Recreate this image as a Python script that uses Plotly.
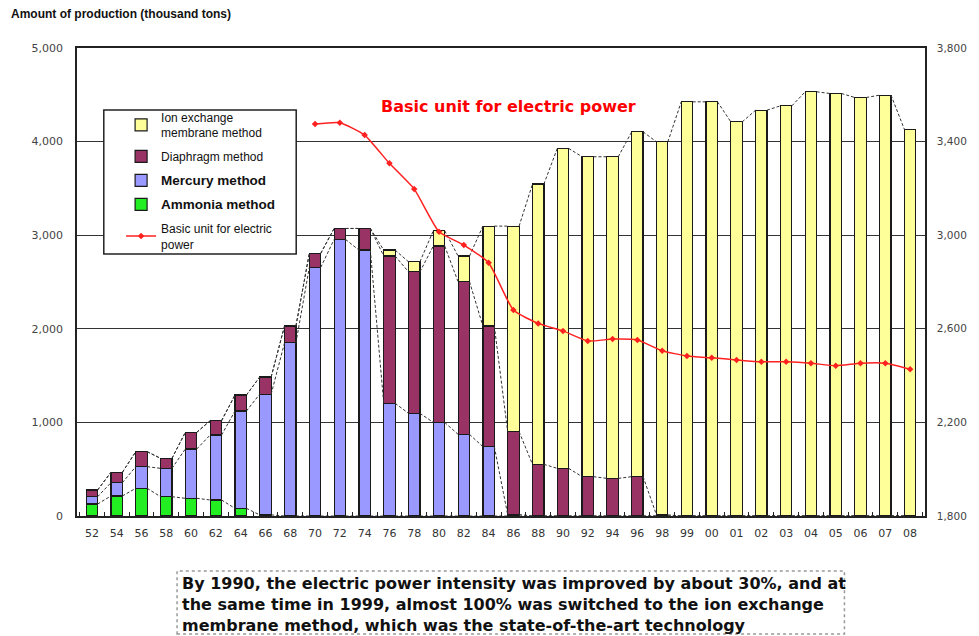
import plotly.graph_objects as go

years = ["52","54","56","58","60","62","64","66","68","70","72","74","76","78","80","82","84","86","88","90","92","94","96","98",
         "99","00","01","02","03","04","05","06","07","08"]

ammonia   = [128,214,296,206,189,171,82,12,0,0,0,0,0,0,0,0,0,0,0,0,0,0,0,0, 0,0,0,0,0,0,0,0,0,0]
mercury   = [78,142,231,303,527,694,1039,1290,1850,2656,2955,2841,1204,1097,1000,872,740,15,0,0,0,0,0,0, 0,0,0,0,0,0,0,0,0,0]
diaphragm = [72,111,160,107,178,153,171,183,180,150,117,231,1573,1512,1884,1631,1289,885,552,509,420,402,420,12, 0,0,0,0,0,0,0,0,0,0]
ion_exch  = [0,0,0,0,0,0,0,0,0,0,0,0,64,107,163,274,1068,2197,2994,3418,3418,3436,3684,3986,
             4425,4425,4211,4336,4382,4532,4514,4471,4496,4130]

power_years = ["70","72","74","76","78","80","82","84","86","88","90","92","94","96","98",
               "99","00","01","02","03","04","05","06","07","08"]
power_unit  = [3475,3481,3428,3307,3197,3015,2958,2882,2680,2623,2591,2548,2556,2552,2506,
               2484,2476,2467,2459,2459,2453,2442,2453,2453,2427]

n = len(years)
xi = list(range(n))
W = 0.46
FONT = "Liberation Sans, Arial, sans-serif"
WIDE = "DejaVu Sans, sans-serif"

fig = go.Figure()

BIG = "<span style='font-size:13.5px'><b>%s</b></span>"
bar_specs = [
    (BIG % "Ammonia method", ammonia, "#22EE22", 4),
    (BIG % "Mercury method", mercury, "#9999FF", 3),
    ("Diaphragm method", diaphragm, "#993366", 2),
    ("Ion exchange<br>membrane method", ion_exch, "#FFFF99", 1),
]
for name, vals, col, rank in bar_specs:
    fig.add_trace(go.Bar(x=xi, y=vals, name=name, width=W, legendrank=rank, legendgroup="g%d" % rank,
                         marker=dict(color=col, line=dict(color="#1a1a1a", width=1.2))))

# Excel-style series lines connecting the top of each stacked segment
cum = [0.0] * n
for _, vals, _, _ in bar_specs:
    cum = [c + v for c, v in zip(cum, vals)]
    sx, sy = [], []
    for i in range(n - 1):
        sx += [i + W / 2, i + 1 - W / 2, None]
        sy += [cum[i], cum[i + 1], None]
    fig.add_trace(go.Scatter(x=sx, y=sy, mode="lines", showlegend=False, hoverinfo="skip",
                             line=dict(color="#333333", width=1, dash="3px,2px")))

px = [years.index(y) for y in power_years]
fig.add_trace(go.Scatter(x=px, y=power_unit, yaxis="y2", mode="lines+markers",
                         name="Basic unit for electric<br>power", legendrank=5, legendgroup="g5",
                         line=dict(color="#FF2020", width=1.5, shape="spline", smoothing=0.5),
                         marker=dict(symbol="diamond", size=5, color="#FF2020")))

# invisible trace carrying the category label axis
fig.add_trace(go.Scatter(x=xi, y=[0] * n, xaxis="x2", mode="none", showlegend=False, hoverinfo="skip"))

fig.update_layout(
    width=971, height=628,
    margin=dict(l=69, r=47, t=40, b=120),
    paper_bgcolor="white", plot_bgcolor="white",
    barmode="stack",
    font=dict(family=FONT, color="#222222"),
    showlegend=True,
    legend=dict(x=0.052, y=0.883, xanchor="left", yanchor="top",
                bgcolor="rgba(0,0,0,0)", borderwidth=0,
                font=dict(size=12, family=FONT, color="#111111"),
                traceorder="grouped", itemwidth=30, tracegroupgap=5),
    xaxis=dict(range=[-0.6, n - 0.4], tickmode="array", tickvals=[i + 0.5 for i in range(-1, n)],
               ticktext=[""] * (n + 1), ticks="inside", ticklen=4, tickwidth=1.2, tickcolor="#222222",
               showgrid=False, zeroline=False,
               showline=True, linecolor="#222222", linewidth=1.5, mirror=True),
    xaxis2=dict(range=[-0.6, n - 0.4], overlaying="x", side="bottom", anchor="y",
                tickmode="array", tickvals=xi, ticktext=years, ticks="", showgrid=False,
                zeroline=False, showline=False,
                tickfont=dict(size=11, family=WIDE, color="#333333"), ticklabelstandoff=9),
    yaxis=dict(range=[0, 5000], dtick=1000, tickformat=",", showgrid=True, gridcolor="#333333",
               gridwidth=1.3, zeroline=False, showline=True, linecolor="#222222", linewidth=1.5,
               tickfont=dict(size=11, family=WIDE, color="#444444"), ticklabelstandoff=10),
    yaxis2=dict(range=[1800, 3800], tick0=1800, dtick=400, tickformat=",", overlaying="y", side="right",
                showgrid=False, zeroline=False, showline=True, linecolor="#222222", linewidth=1.5,
                tickfont=dict(size=10.5, family=WIDE, color="#444444"), ticklabelstandoff=8),
    shapes=[
        dict(type="rect", xref="paper", yref="paper", x0=0.0316, x1=0.2585, y0=0.5598, y1=0.8675,
             fillcolor="white", line=dict(color="#222222", width=1.5), layer="above"),
        dict(type="rect", xref="paper", yref="paper", x0=0.118, x1=0.905, y0=-0.252, y1=-0.1175,
             fillcolor="white", line=dict(color="#999999", width=1.5, dash="dot"), layer="above"),
    ],
    annotations=[
        dict(text="<b>Amount of production (thousand tons)</b>", xref="paper", yref="paper",
             x=-0.0807, y=1.0726, xanchor="left", yanchor="middle", showarrow=False,
             font=dict(size=12, color="#111111")),
        dict(text="<b>Basic unit for electric power</b>", xref="paper", yref="paper",
             x=0.5088, y=0.876, xanchor="center", yanchor="middle", showarrow=False,
             font=dict(size=16, family=WIDE, color="#FF0000")),
        dict(text="<b>By 1990, the electric power intensity was improved by about 30%, and at<br>"
                  "the same time in 1999, almost 100% was switched to the ion exchange<br>"
                  "membrane method, which was the state-of-the-art technology</b>",
             xref="paper", yref="paper", x=0.1216, y=-0.1195, xanchor="left", yanchor="top",
             align="left", showarrow=False, font=dict(size=16, family=WIDE, color="#111111")),
    ],
)

fig.write_html("out.html")
